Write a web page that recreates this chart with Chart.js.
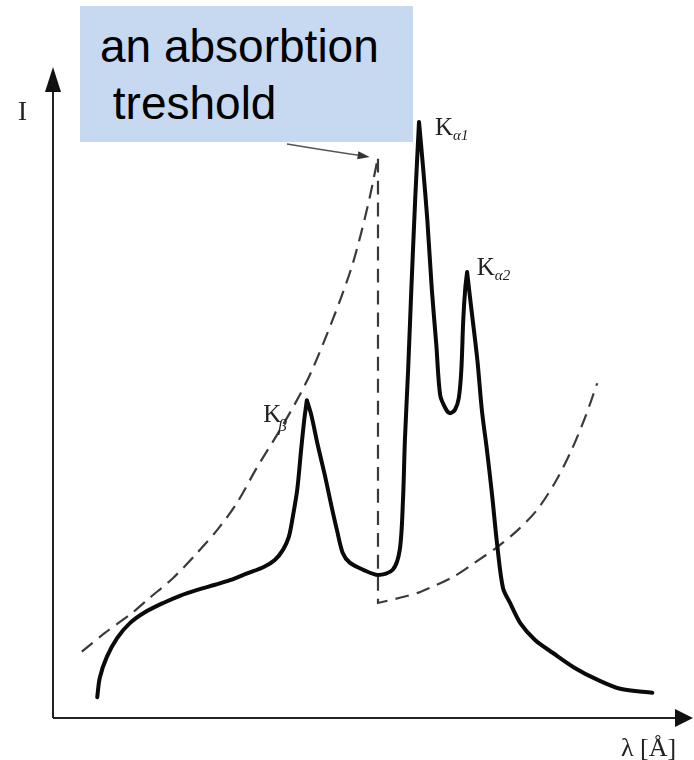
<!DOCTYPE html>
<html>
<head>
<meta charset="utf-8">
<script src="https://cdn.jsdelivr.net/npm/chart.js@4/dist/chart.umd.min.js"></script>
<style>
  html, body { margin: 0; padding: 0; background: #fff; }
  #wrap { position: relative; width: 694px; height: 760px; }
  #note {
    position: absolute; left: 80px; top: 6px; width: 333px; height: 136px;
    background: #c6d9f1; box-sizing: border-box; padding: 12px 0 0 20px;
    font-family: "Liberation Sans", Arial, sans-serif; font-size: 46px;
    line-height: 57px; color: #000; white-space: pre;
  }
</style>
</head>
<body>
<div id="wrap">
  <canvas id="spectrum" width="694" height="760"></canvas>
  <div id="note">an absorbtion
 treshold</div>
</div>
<script>
// emission spectrum (thick line); peak points are repeated so the spline keeps them sharp
var solidX = [6.9, 7.3, 8.4, 10.0, 12.0, 14.4, 17.2, 19.8, 22.5, 25.3, 27.6, 30.4, 32.8, 34.6, 35.9, 36.8,
  37.4, 38.1, 38.7, 39.2, 39.6, 39.6, 40.3, 41.3, 42.4, 43.4, 44.3, 45.2, 46.3, 48.4, 50.7, 53.0, 54.1,
  54.6, 54.9, 55.4, 55.9, 56.5, 57.1, 57.1, 57.7, 58.4, 59.1, 59.8, 60.4, 61.2, 61.9, 62.7, 63.3, 63.7,
  64.0, 64.3, 64.6, 64.6, 65.2, 66.2, 66.9, 67.7, 68.5, 69.3, 70.2, 71.3, 72.9, 75.2, 78.0, 81.4, 84.9,
  88.5, 93.5];
var solidY = [3.2, 6.2, 9.4, 12.3, 14.6, 16.3, 17.7, 18.8, 19.7, 20.5, 21.2, 22.3, 23.2, 24.3, 25.9, 27.9,
  30.9, 35.1, 41.2, 45.9, 48.9, 48.9, 46.6, 42.0, 37.4, 32.8, 28.9, 25.4, 23.9, 22.8, 22.0, 22.8, 25.9,
  33.5, 42.8, 53.5, 65.9, 79.7, 91.7, 91.7, 85.1, 76.6, 65.9, 57.4, 49.7, 47.7, 46.9, 47.4, 49.2, 53.5,
  61.2, 65.9, 68.6, 68.6, 63.5, 55.1, 47.4, 41.2, 34.3, 26.6, 20.0, 17.7, 14.6, 12.0, 10.0, 7.7, 5.9,
  4.5, 3.9];

// absorption curve (dashed) with the edge
var dashX = [4.5, 8.1, 12.0, 15.1, 18.7, 22.2, 25.6, 28.7, 31.8, 35.4, 38.5, 40.4, 42.4, 44.8, 46.7, 48.2,
  49.5, 50.7, 50.7, 50.7, 50.7, 54.1, 57.3, 62.4, 65.8, 69.3, 72.5, 75.5, 78.3, 80.7, 83.0, 84.9];
var dashY = [10.2, 13.1, 15.9, 18.5, 21.5, 25.1, 28.9, 33.1, 38.5, 44.3, 49.7, 53.5, 58.2, 64.3, 69.7, 75.1,
  80.5, 86.3, 86.3, 17.7, 17.7, 18.5, 19.4, 21.7, 23.9, 26.3, 28.9, 32.0, 36.2, 40.8, 46.2, 51.5];

function toPoints(xs, ys) {
    return xs.map(function(x, i) { return { x: x, y: ys[i] }; });
}

var decorations = {
    id: 'decorations',
    afterDraw: function(chart) {
        var ctx = chart.ctx;
        var a = chart.chartArea;
        var xs = chart.scales.x, ys = chart.scales.y;
        ctx.save();

        // axes with arrow heads
        ctx.strokeStyle = '#222';
        ctx.fillStyle = '#111';
        ctx.lineWidth = 2;
        ctx.beginPath();
        ctx.moveTo(a.left, a.bottom);
        ctx.lineTo(a.left, a.top + 20);
        ctx.moveTo(a.left, a.bottom);
        ctx.lineTo(a.right - 16, a.bottom);
        ctx.stroke();
        ctx.beginPath();
        ctx.moveTo(a.left, a.top - 1);
        ctx.lineTo(a.left - 8, a.top + 24);
        ctx.lineTo(a.left + 8, a.top + 24);
        ctx.closePath();
        ctx.fill();
        ctx.beginPath();
        ctx.moveTo(a.right - 1, a.bottom);
        ctx.lineTo(a.right - 19, a.bottom - 9);
        ctx.lineTo(a.right - 19, a.bottom + 9);
        ctx.closePath();
        ctx.fill();

        // axis labels
        ctx.fillStyle = '#222';
        ctx.font = '27px "Liberation Serif", serif';
        ctx.fillText('I', 18, 120);
        ctx.font = '26px "Liberation Serif", serif';
        ctx.fillText('λ [Å]', 621, 756);

        // pointer from the note to the edge
        var p0 = [xs.getPixelForValue(36.5), ys.getPixelForValue(88.3)];
        var p1 = [xs.getPixelForValue(43.2), ys.getPixelForValue(87.2)];
        var p2 = [xs.getPixelForValue(49.4), ys.getPixelForValue(86.3)];
        ctx.strokeStyle = '#555';
        ctx.lineWidth = 1.5;
        ctx.beginPath();
        ctx.moveTo(p0[0], p0[1]);
        ctx.quadraticCurveTo(p1[0], p1[1], p2[0] - 6, p2[1] - 1);
        ctx.stroke();
        var ang = Math.atan2(p2[1] - p1[1], p2[0] - p1[0]);
        ctx.fillStyle = '#333';
        ctx.beginPath();
        ctx.moveTo(p2[0], p2[1]);
        ctx.lineTo(p2[0] - 12 * Math.cos(ang) + 4 * Math.sin(ang), p2[1] - 12 * Math.sin(ang) - 4 * Math.cos(ang));
        ctx.lineTo(p2[0] - 12 * Math.cos(ang) - 4 * Math.sin(ang), p2[1] - 12 * Math.sin(ang) + 4 * Math.cos(ang));
        ctx.closePath();
        ctx.fill();

        // peak labels
        var peaks = [
            { sub: 'α1', x: 59.6, y: 89.7, dx: 0, dy: 5, size: 15 },
            { sub: 'α2', x: 66.1, y: 68.2, dx: 0, dy: 5, size: 15 },
            { sub: 'β', x: 32.8, y: 45.5, dx: -3, dy: 9, size: 17 }
        ];
        ctx.fillStyle = '#222';
        peaks.forEach(function(p) {
            var px = xs.getPixelForValue(p.x), py = ys.getPixelForValue(p.y);
            ctx.font = '25px "Liberation Serif", serif';
            ctx.fillText('K', px, py);
            var w = ctx.measureText('K').width;
            ctx.font = 'italic ' + p.size + 'px "Liberation Serif", serif';
            ctx.fillText(p.sub, px + w + p.dx, py + p.dy);
        });
        ctx.restore();
    }
};

window.onload = function() {
    var ctx = document.getElementById('spectrum').getContext('2d');
    new Chart(ctx, {
        type: 'scatter',
        data: {
            datasets: [{
                label: 'emission',
                data: toPoints(solidX, solidY),
                showLine: true,
                borderColor: '#0a0a0a',
                borderWidth: 4,
                pointRadius: 0,
                tension: 0.3,
                borderJoinStyle: 'round',
                borderCapStyle: 'round',
                clip: false
            }, {
                label: 'absorption',
                data: toPoints(dashX, dashY),
                showLine: true,
                borderColor: '#3a3a3a',
                borderWidth: 2.2,
                borderDash: [14, 8],
                pointRadius: 0,
                tension: 0.3,
                clip: false
            }]
        },
        options: {
            responsive: false,
            animation: false,
            events: [],
            layout: { padding: { left: 53, right: 0, top: 68, bottom: 42 } },
            plugins: { legend: { display: false }, tooltip: { enabled: false } },
            scales: {
                x: { type: 'linear', min: 0, max: 100, display: false },
                y: { type: 'linear', min: 0, max: 100, display: false }
            }
        },
        plugins: [decorations]
    });
};
</script>
</body>
</html>
